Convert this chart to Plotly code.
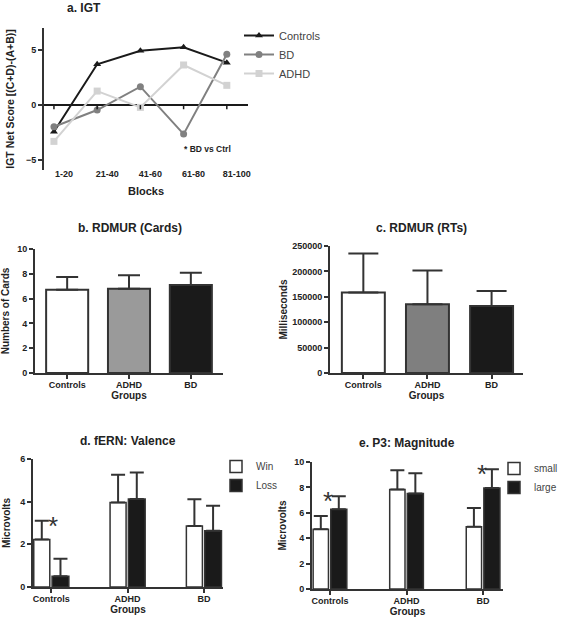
import plotly.graph_objects as go

W, H = 563, 619
FONT = "Liberation Sans, Arial, sans-serif"
AX = "#333333"

# ---------------- data ----------------
blocks = ["1-20", "21-40", "41-60", "61-80", "81-100"]
igt_controls = [-2.42, 3.70, 4.94, 5.24, 3.85]
igt_bd = [-1.97, -0.45, 1.67, -2.64, 4.61]
igt_adhd = [-3.30, 1.27, -0.21, 3.64, 1.79]

groups = ["Controls", "ADHD", "BD"]
cards_mean = [6.72, 6.80, 7.10]
cards_err = [1.02, 1.08, 0.99]
rt_mean = [158600, 135100, 131900]
rt_err = [76400, 66600, 29300]

fern_win = [2.23, 3.96, 2.86]
fern_win_err = [0.88, 1.30, 1.25]
fern_loss = [0.50, 4.13, 2.64]
fern_loss_err = [0.83, 1.24, 1.17]

p3_small = [4.70, 7.83, 4.91]
p3_small_err = [1.04, 1.52, 1.46]
p3_large = [6.27, 7.52, 7.96]
p3_large_err = [1.04, 1.59, 1.47]


def px_x(a, b):
    return [a / W, b / W]


def px_y(top, bottom):
    return [1 - bottom / H, 1 - top / H]


fig = go.Figure()

# ---------------- panel a ----------------
line_cols = {"Controls": "#1a1a1a", "BD": "#808080", "ADHD": "#d2d2d2"}
syms = {"Controls": "triangle-up", "BD": "circle", "ADHD": "square"}
for name, vals in [("Controls", igt_controls), ("BD", igt_bd), ("ADHD", igt_adhd)]:
    fig.add_trace(go.Scatter(
        x=blocks, y=vals, name=name, mode="lines+markers",
        line=dict(color=line_cols[name], width=2),
        marker=dict(symbol=syms[name], size=7, color=line_cols[name]),
        xaxis="x", yaxis="y", legend="legend"))

# ---------------- panel b ----------------
fig.add_trace(go.Bar(
    x=groups, y=cards_mean, width=0.68,
    marker=dict(color=["#ffffff", "#9a9a9a", "#1a1a1a"], line=dict(color=AX, width=2)),
    error_y=dict(type="data", array=cards_err, arrayminus=[0, 0, 0], symmetric=False,
                 color=AX, thickness=2, width=11),
    xaxis="x2", yaxis="y2", showlegend=False))

# ---------------- panel c ----------------
fig.add_trace(go.Bar(
    x=groups, y=rt_mean, width=0.67,
    marker=dict(color=["#ffffff", "#7f7f7f", "#1a1a1a"], line=dict(color=AX, width=2)),
    error_y=dict(type="data", array=rt_err, arrayminus=[0, 0, 0], symmetric=False,
                 color=AX, thickness=2, width=15),
    xaxis="x3", yaxis="y3", showlegend=False))

# ---------------- panel d ----------------
fig.add_trace(go.Bar(
    x=groups, y=fern_win, name="Win", width=0.21, offset=-0.23,
    marker=dict(color="#ffffff", line=dict(color=AX, width=1.5)),
    error_y=dict(type="data", array=fern_win_err, arrayminus=[0, 0, 0], symmetric=False,
                 color=AX, thickness=2, width=7),
    xaxis="x4", yaxis="y4", legend="legend2"))
fig.add_trace(go.Bar(
    x=groups, y=fern_loss, name="Loss", width=0.22, offset=0.01,
    marker=dict(color="#1a1a1a", line=dict(color=AX, width=1.5)),
    error_y=dict(type="data", array=fern_loss_err, arrayminus=[0, 0, 0], symmetric=False,
                 color=AX, thickness=2, width=7),
    xaxis="x4", yaxis="y4", legend="legend2"))

# ---------------- panel e ----------------
fig.add_trace(go.Bar(
    x=groups, y=p3_small, name="small", width=0.20, offset=-0.22,
    marker=dict(color="#ffffff", line=dict(color=AX, width=1.5)),
    error_y=dict(type="data", array=p3_small_err, arrayminus=[0, 0, 0], symmetric=False,
                 color=AX, thickness=2, width=7),
    xaxis="x5", yaxis="y5", legend="legend3"))
fig.add_trace(go.Bar(
    x=groups, y=p3_large, name="large", width=0.21, offset=0.01,
    marker=dict(color="#1a1a1a", line=dict(color=AX, width=1.5)),
    error_y=dict(type="data", array=p3_large_err, arrayminus=[0, 0, 0], symmetric=False,
                 color=AX, thickness=2, width=7),
    xaxis="x5", yaxis="y5", legend="legend3"))

tickf = dict(family=FONT, size=9, color="#222", weight="bold")
titf = dict(family=FONT, size=10, color="#222", weight="bold")


def yax(domain, rng, dtick, anchor, title, standoff):
    return dict(domain=domain, range=rng, dtick=dtick, anchor=anchor, automargin=False,
                showline=True, linecolor=AX, linewidth=2, ticks="outside",
                ticklen=4, tickwidth=2, tickcolor=AX, showgrid=False, zeroline=False,
                tickfont=tickf, tickformat="d",
                title=dict(text=title, font=titf, standoff=standoff),
                fixedrange=True)


def xax(domain, rng, anchor, title):
    return dict(domain=domain, range=rng, anchor=anchor, type="category", automargin=False,
                showline=True, linecolor=AX, linewidth=2, ticks="outside",
                ticklen=4, tickwidth=2, tickcolor=AX, showgrid=False,
                tickfont=tickf, ticklabelstandoff=-2,
                title=dict(text=title, font=titf, standoff=1),
                fixedrange=True)


layout = dict(
    width=W, height=H, margin=dict(l=0, r=0, t=0, b=0, autoexpand=False),
    paper_bgcolor="white", plot_bgcolor="white",
    barmode="overlay", font=dict(family=FONT),
)

# panel a axes
layout["xaxis"] = dict(domain=px_x(44, 248), range=[-0.23, 4.49], anchor="y", type="category",
                       automargin=False,
                       showline=False, ticks="", showgrid=False, tickfont=tickf,
                       ticklabelshift=10, ticklabelstandoff=-3,
                       title=dict(text="Blocks", font=dict(family=FONT, size=11, color="#222", weight="bold"),
                                  standoff=9), fixedrange=True)
ya = yax(px_y(28, 170), [-5.9, 7.0], 5, "x", "IGT Net Score [(C+D)-(A+B)]", 9)
ya.update(zeroline=True, zerolinecolor="#1a1a1a", zerolinewidth=2)
ya["title"]["font"] = dict(family=FONT, size=10.5, color="#222", weight="bold")
layout["yaxis"] = ya

layout["xaxis2"] = xax(px_x(35, 223), [-0.52, 2.52], "y2", "Groups")
layout["yaxis2"] = yax(px_y(249, 373), [0, 10], 2, "x2", "Numbers of Cards", 6)
layout["xaxis3"] = xax(px_x(330, 523), [-0.52, 2.49], "y3", "Groups")
layout["yaxis3"] = yax(px_y(246, 373), [0, 250000], 50000, "x3", "Milliseconds", 3)
layout["xaxis4"] = xax(px_x(33, 223), [-0.24, 2.25], "y4", "Groups")
layout["yaxis4"] = yax(px_y(459, 587), [0, 6], 2, "x4", "Microvolts", 8)
layout["xaxis5"] = xax(px_x(312, 503), [-0.235, 2.26], "y5", "Groups")
layout["yaxis5"] = yax(px_y(462, 589), [0, 10], 2, "x5", "Microvolts", 6)

legf = dict(family=FONT, size=11, color="#444")
layout["legend"] = dict(x=239 / W, y=1 - 21 / H, xanchor="left", yanchor="top",
                        font=legf, bgcolor="rgba(0,0,0,0)", tracegroupgap=0)
layout["legend2"] = dict(x=216 / W, y=1 - 452 / H, xanchor="left", yanchor="top",
                         font=dict(family=FONT, size=10, color="#444"), bgcolor="rgba(0,0,0,0)")
layout["legend3"] = dict(x=1.0, y=1 - 454 / H, xanchor="right", yanchor="top",
                         font=dict(family=FONT, size=10, color="#444"), bgcolor="rgba(0,0,0,0)")

fig.update_layout(**layout)

# tick marks on the zero line of panel a
for b in blocks:
    fig.add_shape(type="line", xref="x", yref="y", x0=b, x1=b, y0=0, y1=-0.38,
                  line=dict(color="#1a1a1a", width=1.5))

# titles
titles = [("a. IGT", 84, 8), ("b. RDMUR (Cards)", 130, 228), ("c. RDMUR (RTs)", 421, 228),
          ("d. fERN: Valence", 128, 441), ("e. P3: Magnitude", 407, 443)]
for t, x, y in titles:
    fig.add_annotation(text=t, x=x / W, y=1 - y / H, xref="paper", yref="paper",
                       xanchor="center", yanchor="middle", showarrow=False,
                       font=dict(family=FONT, size=12, color="#222", weight="bold"))

# significance note
fig.add_annotation(text="* BD vs Ctrl", x="61-80", y=-4.0, xref="x", yref="y",
                   xanchor="left", yanchor="middle", showarrow=False, xshift=-2,
                   font=dict(family=FONT, size=8.5, color="#222", weight="bold"))

# asterisks
star = dict(family=FONT, size=26, color="#333333")
fig.add_annotation(text="*", x="Controls", y=3.1, xref="x4", yref="y4", showarrow=False,
                   xshift=2, yshift=-5, yanchor="middle", font=star)
fig.add_annotation(text="*", x="Controls", y=7.24, xref="x5", yref="y5", showarrow=False,
                   xshift=-2, yshift=-4, yanchor="middle", font=star)
fig.add_annotation(text="*", x="BD", y=9.37, xref="x5", yref="y5", showarrow=False,
                   xshift=-1, yshift=-4, yanchor="middle", font=star)

fig.write_html("out.html", config={"displayModeBar": False},
               post_script="document.body.style.margin='0';document.body.style.padding='0';")
